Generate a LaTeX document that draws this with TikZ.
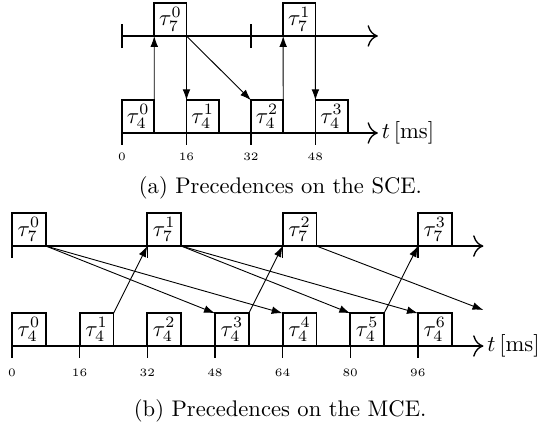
\documentclass[tikz,border=0pt]{standalone}
\usepackage{amsmath}
\usetikzlibrary{arrows.meta}
\tikzstyle{job} = [rectangle, draw, thick, minimum height=0.51cm, inner sep=0pt, outer sep=0pt, anchor=south west]
\tikzstyle{timeaxis} = [semithick, ->, >={To[length=1.6mm]}]
\tikzstyle{tickmark} = [semithick]
\tikzstyle{ticklabel} = [font=\tiny, inner sep=0pt]
\tikzstyle{unitlabel} = [right, inner sep=1.5pt, minimum width=0pt]
\tikzstyle{prec} = [thin, -{Latex[length=1.7mm, width=1.2mm]}]
\tikzstyle{caption} = [font=\normalsize, inner sep=0pt]

\begin{document}
\begin{tikzpicture}
    \useasboundingbox (0,0) rectangle (8.466,6.614);
    % (a) SCE
    \begin{scope}[shift={(1.899,4.544)}, x=0.0627cm, y=1cm, every node/.append style={minimum width=0.502cm}]
        \draw[timeaxis] (0,0) -- (63.5,0) node[unitlabel] (aunit) {$t\,[\mathrm{ms}]$};
        \draw[timeaxis] (0,1.51) -- (63.5,1.51);
        \foreach \x in {0,32}
            \draw[tickmark] (\x,1.32) -- (\x,1.7);
        \foreach \k in {0,...,3} {
            \draw[tickmark] (16*\k,0) -- (16*\k,-0.19);
            \pgfmathtruncatemacro{\ms}{16*\k}
            \node[ticklabel, minimum width=0pt] (al\k) at (16*\k,-0.37) {\ms};
            \node[job] (a4\k) at (16*\k,0) {$\tau_4^{\k}$};
        }
        \node[job] (a70) at (8,1.51) {$\tau_7^0$};
        \node[job] (a71) at (40,1.51) {$\tau_7^1$};

        \draw[prec] (a40.north east) -- (a70.south west);
        \draw[prec] (a70.south east) -- (a41.north west);
        \draw[prec] (a70.south east) -- (a42.north west);
        \draw[prec] (a42.north east) -- (a71.south west);
        \draw[prec] (a71.south east) -- (a43.north west);
    \end{scope}
    \node[caption] (capa) at (4.365,3.69) {(a) Precedences on the SCE.};

    % (b) MCE
    \begin{scope}[shift={(0.187,1.229)}, x=0.0658cm, y=1cm, every node/.append style={minimum width=0.527cm}]
        \draw[timeaxis] (0,0) -- (111.5,0) node[unitlabel] (bunit) {$t\,[\mathrm{ms}]$};
        \draw[timeaxis] (0,1.556) -- (111.5,1.556);
        \foreach \k in {0,...,6} {
            \draw[tickmark] (16*\k,0) -- (16*\k,-0.19);
            \pgfmathtruncatemacro{\ms}{16*\k}
            \node[ticklabel, minimum width=0pt] (bl\k) at (16*\k,-0.42) {\ms};
            \node[job] (b4\k) at (16*\k,0) {$\tau_4^{\k}$};
        }
        \foreach \k in {0,...,3} {
            \draw[tickmark] (32*\k,1.556) -- (32*\k,1.366);
            \node[job] (b7\k) at (32*\k,1.556) {$\tau_7^{\k}$};
        }
        \coordinate (bfree) at (111.5,0.56);

        \draw[prec] (b41.north east) -- (b71.south west);
        \draw[prec] (b43.north east) -- (b72.south west);
        \draw[prec] (b45.north east) -- (b73.south west);
        \draw[prec] (b70.south east) -- (b43.north west);
        \draw[prec] (b70.south east) -- (b44.north west);
        \draw[prec] (b71.south east) -- (b45.north west);
        \draw[prec] (b71.south east) -- (b46.north west);
        \draw[prec] (b72.south east) -- (bfree);
    \end{scope}
    \node[caption] (capb) at (4.36,0.22) {(b) Precedences on the MCE.};
\end{tikzpicture}
\end{document}
